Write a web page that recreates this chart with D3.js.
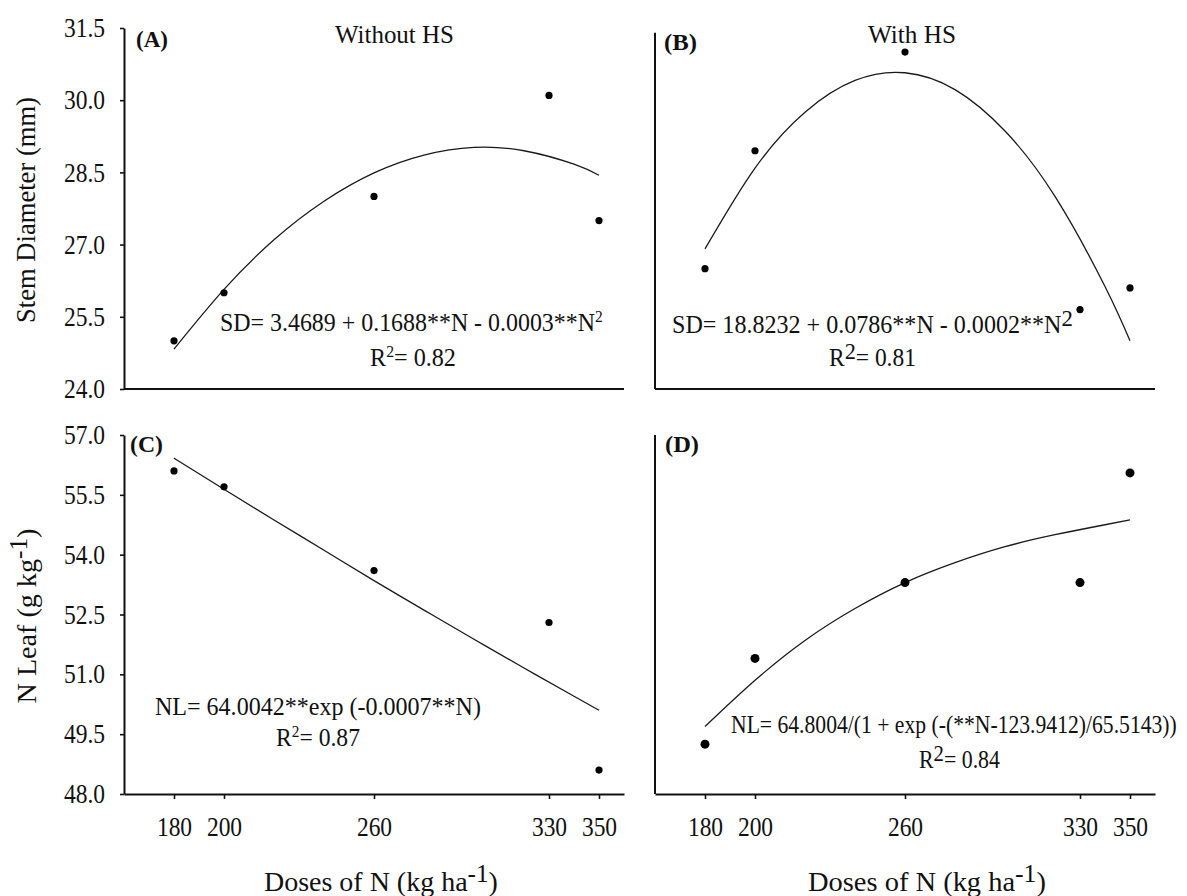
<!DOCTYPE html>
<html><head><meta charset="utf-8">
<script src="https://cdn.jsdelivr.net/npm/d3@7"></script>
<style>
html,body{margin:0;padding:0;background:#fff;}
svg{display:block;font-family:"Liberation Serif","Times New Roman",serif;}
</style></head>
<body>
<svg id="chart" width="1187" height="896"></svg>
<script>
// ---- data ----
const doses = [180, 200, 260, 330, 350];
const sdWithout = [25.0, 26.0, 28.0, 30.1, 27.5];
const sdWith = [26.5, 28.95, 31.0, 25.65, 26.1];
const nlWithout = [56.1, 55.7, 53.6, 52.3, 48.6];
const nlWith = [49.25, 51.4, 53.3, 53.3, 56.05];
const fitDoses = [180, 200, 220, 240, 260, 280, 300, 320, 340, 350];
const fitSdWithout = [24.83, 26.07, 27.10, 27.90, 28.49, 28.86, 29.02, 28.95, 28.67, 28.44];
const fitSdWith = [26.91, 28.59, 29.75, 30.41, 30.57, 30.22, 29.36, 28.00, 26.13, 25.0];
const fitNlWithout = [56.42, 55.64, 54.87, 54.11, 53.35, 52.61, 51.88, 51.16, 50.45, 50.10];
const fitNlWith = [49.69, 50.85, 51.85, 52.65, 53.30, 53.80, 54.20, 54.50, 54.75, 54.87];
const sdTicks = [24.0, 25.5, 27.0, 28.5, 30.0, 31.5];
const nlTicks = [48.0, 49.5, 51.0, 52.5, 54.0, 55.5, 57.0];
const doseTicks = [180, 200, 260, 330, 350];
const doseDomain = [160, 360];

const FONT = "Liberation Serif";
const svg = d3.select("#chart");
const INK = "#111";
const SQ = 0.87;

const xLeft = d3.scaleLinear().domain(doseDomain).range([124, 624]);
const xRight = d3.scaleLinear().domain(doseDomain).range([655, 1155]);
const ySD = d3.scaleLinear().domain([24, 31.5]).range([389, 28]);
const yNL = d3.scaleLinear().domain([48, 57]).range([794, 435]);

function styleAxis(g) {
  g.attr("font-family", FONT);
  g.selectAll("path.domain").attr("stroke", INK).attr("stroke-width", 2);
  g.selectAll(".tick line").attr("stroke", INK).attr("stroke-width", 1.6);
  g.selectAll(".tick text").attr("fill", INK).attr("font-size", 27).attr("font-family", FONT);
}

function yAxisTicks(yScale, x, ticks) {
  const g = svg.append("g").attr("transform", `translate(${x},0)`)
    .call(d3.axisLeft(yScale).tickValues(ticks).tickSize(4).tickSizeOuter(0).tickFormat(d3.format(".1f")));
  styleAxis(g);
  g.selectAll(".tick text").attr("x", -19 / SQ).attr("transform", `scale(${SQ},1)`);
}
function xAxisTicks(xScale, y) {
  const g = svg.append("g").attr("transform", `translate(0,${y})`)
    .call(d3.axisBottom(xScale).tickValues(doseTicks).tickSize(5).tickSizeOuter(0).tickFormat(d3.format("d")));
  styleAxis(g);
  g.selectAll(".tick text").attr("y", 42).attr("dy", 0).attr("transform", `scale(${SQ},1)`);
}
function hLine(xScale, yScale, yv) {
  svg.append("line").attr("x1", xScale.range()[0]).attr("x2", xScale.range()[1])
    .attr("y1", yScale(yv)).attr("y2", yScale(yv)).attr("stroke", INK).attr("stroke-width", 2);
}
function vLine(xScale, yScale, y0, y1) {
  const x = xScale.range()[0];
  svg.append("line").attr("x1", x).attr("x2", x)
    .attr("y1", yScale(y0)).attr("y2", yScale(y1)).attr("stroke", INK).attr("stroke-width", 2);
}

// rich text: segs are strings or {sup:"..."}; scaled horizontally to target length
function rich(x, y, segs, o) {
  const size = o.size;
  const t = svg.append("text").attr("x", 0).attr("y", 0)
    .attr("font-size", size).attr("fill", INK).attr("font-family", FONT)
    .attr("text-anchor", o.anchor || "start")
    .attr("font-weight", o.weight || "normal");
  let pending = 0;
  segs.forEach(s => {
    if (typeof s === "string") {
      const ts = t.append("tspan").text(s);
      if (pending) { ts.attr("dy", pending); pending = 0; }
    } else {
      const sh = size * (s.shift || 0.38);
      t.append("tspan").attr("dy", -sh).attr("font-size", size * (s.scale || 0.65)).text(s.sup);
      pending = sh;
    }
  });
  const natural = t.node().getComputedTextLength();
  const sx = o.len && natural > 0 ? o.len / natural : 1;
  const rot = o.rotate ? ` rotate(${o.rotate})` : "";
  t.attr("transform", `translate(${x},${y})${rot} scale(${sx},1)`);
  return t;
}

function curve(xScale, yScale, ys) {
  const pts = fitDoses.map((d, i) => [d, ys[i]]);
  svg.append("path").datum(pts)
    .attr("d", d3.line().x(d => xScale(d[0])).y(d => yScale(d[1])).curve(d3.curveNatural))
    .attr("fill", "none").attr("stroke", "#1a1a1a").attr("stroke-width", 1.3);
}
function points(xScale, yScale, ys, r) {
  svg.append("g").selectAll("circle").data(doses.map((d, i) => [d, ys[i]])).join("circle")
    .attr("cx", d => xScale(d[0])).attr("cy", d => yScale(d[1])).attr("r", r).attr("fill", "#000");
}

// ---- Panel A ----
hLine(xLeft, ySD, 24);
yAxisTicks(ySD, 124, sdTicks);
curve(xLeft, ySD, fitSdWithout);
points(xLeft, ySD, sdWithout, 3.6);

// ---- Panel B ----
hLine(xRight, ySD, 24);
vLine(xRight, ySD, 24, 31.4);
curve(xRight, ySD, fitSdWith);
points(xRight, ySD, sdWith, 3.6);

// ---- Panel C ----
xAxisTicks(xLeft, 794);
yAxisTicks(yNL, 124, nlTicks);
curve(xLeft, yNL, fitNlWithout);
points(xLeft, yNL, nlWithout, 3.6);

// ---- Panel D ----
xAxisTicks(xRight, 794);
vLine(xRight, yNL, 48, 57);
curve(xRight, yNL, fitNlWith);
points(xRight, yNL, nlWith, 4.5);

// ---- texts ----
rich(136, 47, ["(A)"], {size: 24, weight: "bold", len: 32});
rich(664, 50, ["(B)"], {size: 24, weight: "bold", len: 33});
rich(130, 452, ["(C)"], {size: 24, weight: "bold", len: 33});
rich(665, 452, ["(D)"], {size: 24, weight: "bold", len: 34});

rich(335, 43, ["Without HS"], {size: 25, len: 119});
rich(868, 43, ["With HS"], {size: 25, len: 88});

rich(220, 331, ["SD= 3.4689 + 0.1688**N - 0.0003**N", {sup: "2"}], {size: 25, len: 383});
rich(370, 366, ["R", {sup: "2"}, "= 0.82"], {size: 25, len: 86});
rich(672, 333, ["SD= 18.8232 + 0.0786**N - 0.0002**N", {sup: "2", scale: 0.95, shift: 0.3}], {size: 25, len: 401});
rich(829, 366, ["R", {sup: "2", scale: 0.95, shift: 0.3}, "= 0.81"], {size: 25, len: 87});
rich(155, 715, ["NL= 64.0042**exp (-0.0007**N)"], {size: 25, len: 326});
rich(276, 746, ["R", {sup: "2"}, "= 0.87"], {size: 25, len: 84});
rich(731, 733, ["NL= 64.8004/(1 + exp (-(**N-123.9412)/65.5143))"], {size: 25, len: 446});
rich(919, 768, ["R", {sup: "2", scale: 0.95, shift: 0.3}, "= 0.84"], {size: 25, len: 81});

rich(264, 891, ["Doses of N (kg ha", {sup: "-1", scale: 0.9, shift: 0.35}, ")"], {size: 27, len: 234});
rich(808, 891, ["Doses of N (kg ha", {sup: "-1", scale: 0.9, shift: 0.35}, ")"], {size: 27, len: 238});

rich(35, 210, ["Stem Diameter (mm)"], {size: 27, anchor: "middle", len: 226, rotate: -90});
rich(36, 616, ["N Leaf (g kg", {sup: "-1", scale: 0.9, shift: 0.35}, ")"], {size: 27, anchor: "middle", len: 175, rotate: -90});
</script>
</body></html>
